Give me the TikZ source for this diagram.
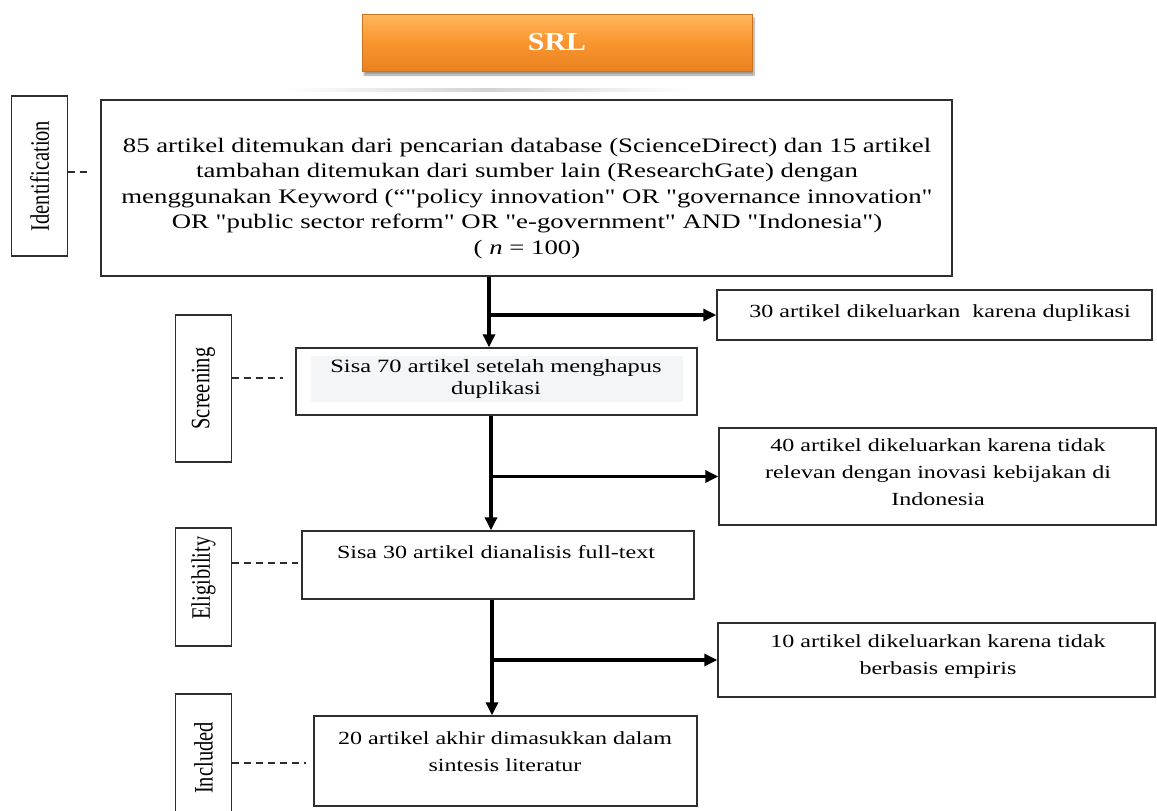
\documentclass[tikz,border=0pt]{standalone}
\usepackage{fontspec}
\setmainfont{Liberation Serif}[Ligatures=TeXOff]
\usepackage{graphicx}
\usetikzlibrary{arrows.meta,shadows.blur}
\newcommand\hx[1]{\scalebox{1.3}[1]{#1}}
\newcommand\lines[1]{\begin{tabular}{@{}c@{}}#1\end{tabular}}
\definecolor{edge}{HTML}{2E2E2E}
\definecolor{orgtop}{HTML}{FFB65C}
\definecolor{orgmid}{HTML}{F9952F}
\definecolor{orgbot}{HTML}{E8821F}
\definecolor{orgedge}{HTML}{C9731F}
\definecolor{paleband}{HTML}{F4F5F7}
\begin{document}
\begin{tikzpicture}[x=1pt,y=-1pt,
  box/.style={draw=edge, line width=1.4pt, inner sep=0pt, fill=white},
  lab/.style={draw=edge, line width=1.4pt, inner sep=0pt, minimum width=56pt},
  txt/.style={inner sep=0pt, text=black},
  arr/.style={line width=3.2pt, draw=black, -{Triangle[length=13pt,width=12pt]}},
  dashconn/.style={draw=edge, line width=1.1pt, dash pattern=on 7pt off 5pt}]
\useasboundingbox (0,0) rectangle (1157,811);

% title
\shade[left color=white, right color=white, middle color=gray!35] (285,88.5) rectangle (690,91.5);
\node[draw=orgedge, line width=1pt, inner sep=0pt, minimum width=390pt, minimum height=57pt,
  top color=orgtop, bottom color=orgbot, middle color=orgmid,
  blur shadow={shadow xshift=2pt, shadow yshift=-4pt, shadow blur steps=6, shadow opacity=40}]
  (srl) at (557,42.5) {\fontsize{26}{30}\selectfont\color{white}\scalebox{1.15}[1]{\bfseries SRL}};

% stage labels
\node[lab, minimum height=160pt] (idlab) at (39.5,176) {};
\node[txt] (idlabt) at (idlab.center) {\fontsize{20.5}{24}\selectfont\hx{\rotatebox{90}{Identification}}};
\node[lab, minimum height=147pt] (sclab) at (203.5,388.5) {};
\node[txt] (sclabt) at (sclab.center) {\fontsize{20.5}{24}\selectfont\hx{\rotatebox{90}{Screening}}};
\node[lab, minimum height=118pt] (ellab) at (203.5,587) {};
\node[txt] (ellabt) at (203.5,578) {\fontsize{20.5}{24}\selectfont\hx{\rotatebox{90}{Eligibility}}};
\node[lab, minimum height=140pt] (inlab) at (203.5,764) {};
\node[txt] (inlabt) at (203.5,758) {\fontsize{20.5}{24}\selectfont\hx{\rotatebox{90}{Included}}};

% main boxes
\node[box, minimum width=851pt, minimum height=176pt] (idbox) at (526.5,188) {};
\node[txt] (idtext) at (527,198) {\fontsize{20.6}{25.5}\selectfont\hx{\lines{85 artikel ditemukan dari pencarian database (ScienceDirect) dan 15 artikel\\
tambahan ditemukan dari sumber lain (ResearchGate) dengan\\
menggunakan Keyword (“"policy innovation" OR "governance innovation"\\
OR "public sector reform" OR "e-government" AND "Indonesia")\\
( \textit{n} = 100)}}};

\node[box, minimum width=401pt, minimum height=67pt] (scbox) at (496.5,381.5) {};
\fill[paleband] (311,356) rectangle (683,402);
\node[txt] (sctext) at (496,379) {\fontsize{18.8}{22}\selectfont\hx{\lines{Sisa 70 artikel setelah menghapus\\duplikasi}}};

\node[box, minimum width=392pt, minimum height=68pt] (elbox) at (498,565) {};
\node[txt] (eltext) at (496,552) {\fontsize{18.5}{27}\selectfont\hx{Sisa 30 artikel dianalisis full-text}};

\node[box, minimum width=383pt, minimum height=90pt] (inbox) at (505.5,761) {};
\node[txt] (intext) at (505,753) {\fontsize{18.5}{27}\selectfont\hx{\lines{20 artikel akhir dimasukkan dalam\\sintesis literatur}}};

% exclusion boxes
\node[box, minimum width=435pt, minimum height=50pt] (ex1) at (934.5,315) {};
\node[txt] (ex1t) at (940,313) {\fontsize{18.5}{27}\selectfont\hx{30 artikel dikeluarkan\ \ karena duplikasi}};
\node[box, minimum width=437pt, minimum height=97pt] (ex2) at (937.5,476.5) {};
\node[txt] (ex2t) at (938,473) {\fontsize{18.5}{27}\selectfont\hx{\lines{40 artikel dikeluarkan karena tidak\\relevan dengan inovasi kebijakan di\\Indonesia}}};
\node[box, minimum width=437pt, minimum height=74pt] (ex3) at (936.5,660) {};
\node[txt] (ex3t) at (938,656) {\fontsize{18.5}{27}\selectfont\hx{\lines{10 artikel dikeluarkan karena tidak\\berbasis empiris}}};

% dashed leaders
\coordinate (idend) at (90,172);
\coordinate (scend) at (283,378);
\coordinate (elend) at (298,563);
\coordinate (inend) at (306,763);
\draw[dashconn] (idlab.east |- idend) -- (idend);
\draw[dashconn] (sclab.east |- scend) -- (scend);
\draw[dashconn] (ellab.east |- elend) -- (elend);
\draw[dashconn] (inlab.east |- inend) -- (inend);

% flow arrows
\coordinate (tA) at (489,312);
\coordinate (tB) at (491,473);
\coordinate (tC) at (492,661);
\draw[arr] (idbox.south -| tA) -- (scbox.north -| tA);
\draw[arr] ([xshift=2pt]tA |- ex1.west) -- (ex1.west);
\draw[arr] (scbox.south -| tB) -- (elbox.north -| tB);
\draw[arr] ([xshift=2pt]tB |- ex2.west) -- (ex2.west);
\draw[arr] (elbox.south -| tC) -- (inbox.north -| tC);
\draw[arr] ([xshift=2pt]tC |- ex3.west) -- (ex3.west);
\end{tikzpicture}
\end{document}
